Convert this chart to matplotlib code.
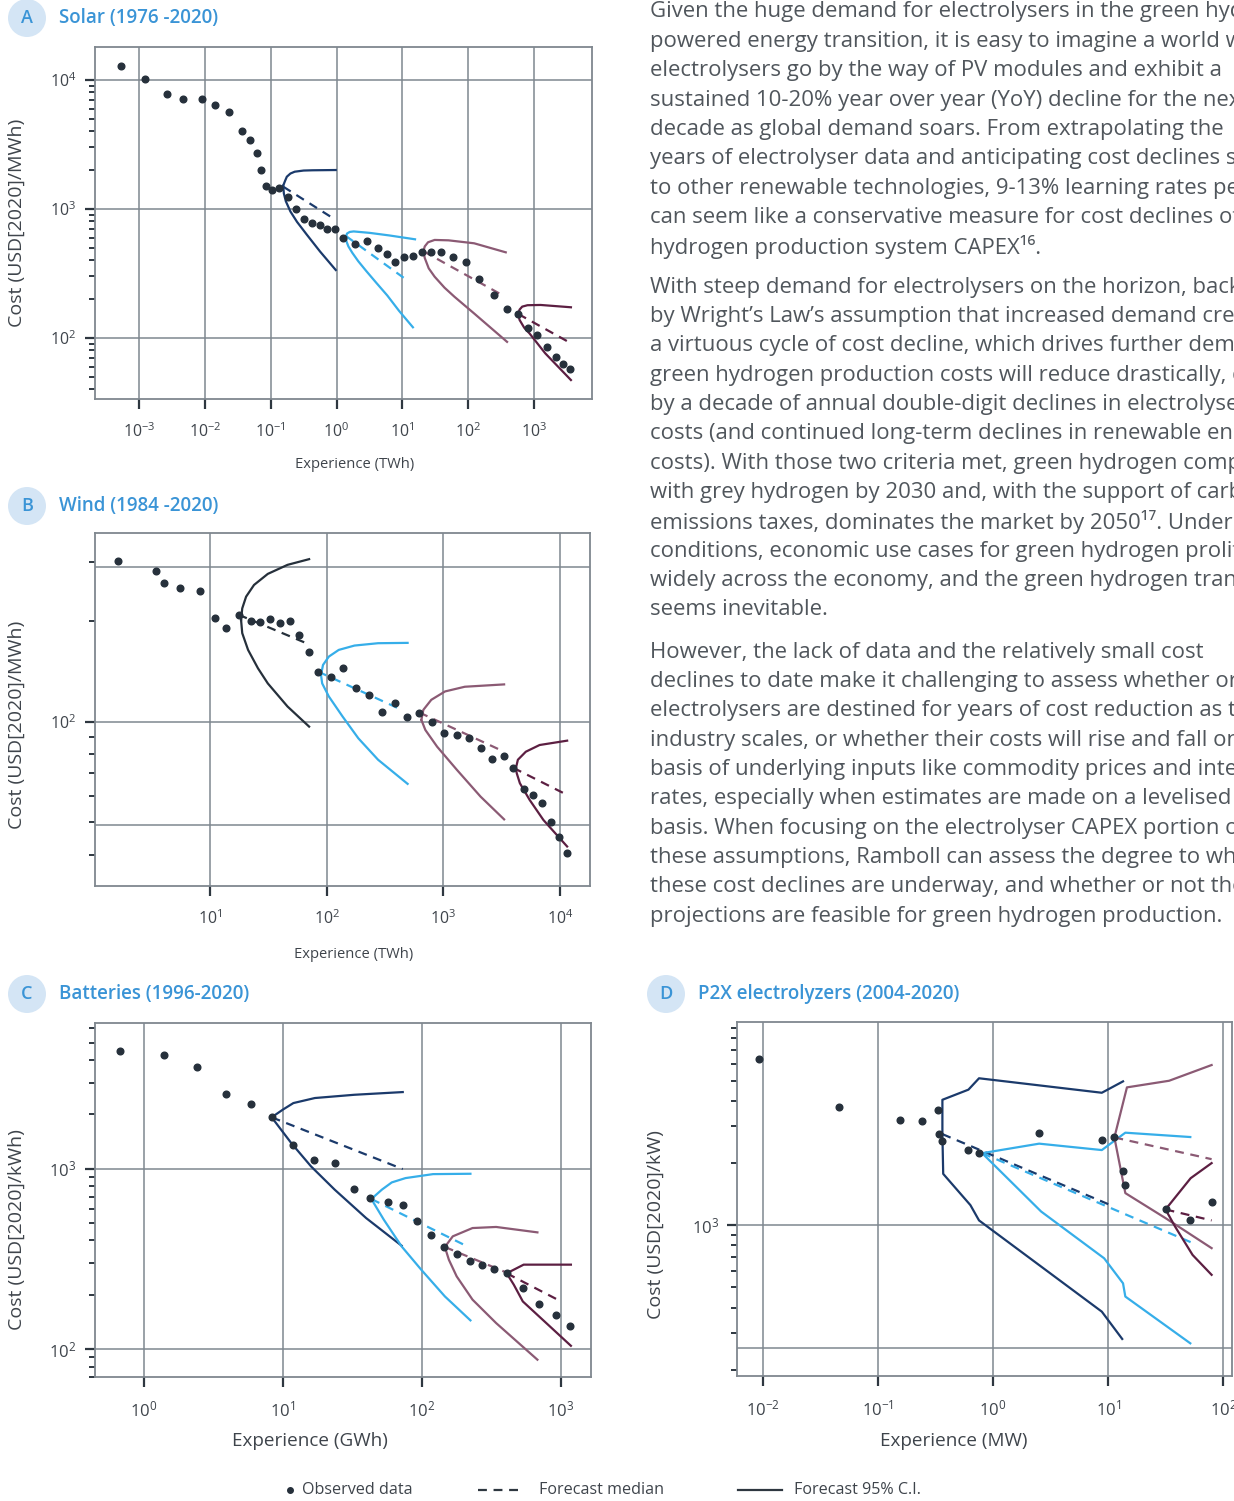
import numpy as np
import matplotlib
matplotlib.use("Agg")
import matplotlib.pyplot as plt
from matplotlib.ticker import FixedLocator, FuncFormatter, LogLocator, NullLocator, NullFormatter
from matplotlib.patches import Ellipse
from matplotlib.lines import Line2D

plt.rcParams['font.family'] = ['Open Sans', 'DejaVu Sans']
plt.rcParams['mathtext.fontset'] = 'custom'
plt.rcParams['mathtext.rm'] = 'Open Sans'

W, H = 1234, 1501

# ---- data (log10 of experience, log10 of cost) ----
# A: solar
solar_x = [-3.28, -2.91, -2.58, -2.33, -2.05, -1.84, -1.64, -1.43, -1.31, -1.21, -1.15,
           -1.07, -0.98, -0.87, -0.74, -0.62, -0.50, -0.37, -0.25, -0.14, -0.02, 0.10,
           0.28, 0.47, 0.63, 0.76, 0.89, 1.02, 1.16, 1.30, 1.43, 1.59, 1.77, 1.96, 2.17,
           2.39, 2.59, 2.75, 2.91, 3.05, 3.19, 3.34, 3.44, 3.55]
solar_y = [4.111, 4.008, 3.894, 3.855, 3.855, 3.809, 3.752, 3.602, 3.535, 3.432, 3.305,
           3.178, 3.145, 3.165, 3.096, 2.997, 2.922, 2.891, 2.873, 2.848, 2.848, 2.773,
           2.726, 2.752, 2.695, 2.649, 2.587, 2.630, 2.638, 2.669, 2.664, 2.664, 2.630,
           2.587, 2.457, 2.336, 2.227, 2.189, 2.075, 2.023, 1.930, 1.855, 1.796, 1.757]
solar_fans = [
    ([-0.81, -0.78, -0.755, -0.70, -0.635, -0.50, -0.365, -0.012],
     [3.181, 3.22, 3.25, 3.275, 3.289, 3.298, 3.30, 3.302],
     [-0.81, -0.80, -0.77, -0.70, -0.60, -0.45, -0.25, -0.012],
     [3.181, 3.12, 3.06, 2.98, 2.90, 2.80, 2.67, 2.527],
     [-0.81, -0.012], [3.173, 2.915]),
    ([0.144, 0.16, 0.20, 0.26, 0.5, 0.8, 1.192],
     [2.79, 2.81, 2.822, 2.826, 2.815, 2.795, 2.765],
     [0.144, 0.15, 0.18, 0.24, 0.33, 0.45, 0.6, 0.77, 0.95, 1.16],
     [2.79, 2.75, 2.71, 2.66, 2.595, 2.52, 2.43, 2.33, 2.21, 2.083],
     [0.144, 1.10], [2.79, 2.437]),
    ([1.32, 1.34, 1.39, 1.49, 1.7, 2.09, 2.57],
     [2.672, 2.71, 2.742, 2.76, 2.757, 2.734, 2.664],
     [1.32, 1.34, 1.40, 1.49, 1.64, 1.79, 2.09, 2.59],
     [2.672, 2.62, 2.54, 2.475, 2.39, 2.32, 2.19, 1.97],
     [1.32, 2.54], [2.672, 2.326]),
    ([2.76, 2.78, 2.82, 2.90, 3.1, 3.56],
     [2.186, 2.22, 2.243, 2.254, 2.256, 2.238],
     [2.76, 2.78, 2.85, 2.93, 3.17, 3.56],
     [2.186, 2.14, 2.08, 2.036, 1.881, 1.674],
     [2.76, 3.56], [2.186, 1.959]),
]

# B: wind
wind_x = [0.214, 0.534, 0.608, 0.747, 0.916, 1.040, 1.142, 1.246, 1.351, 1.429, 1.513,
          1.597, 1.682, 1.763, 1.847, 1.928, 2.036, 2.137, 2.255, 2.367, 2.478, 2.586,
          2.691, 2.795, 2.900, 3.008, 3.116, 3.217, 3.322, 3.416, 3.518, 3.599, 3.690,
          3.771, 3.849, 3.923, 3.994, 4.061]
wind_y = [2.480, 2.449, 2.414, 2.399, 2.390, 2.310, 2.279, 2.319, 2.301, 2.297, 2.306,
          2.293, 2.301, 2.260, 2.207, 2.149, 2.134, 2.159, 2.101, 2.080, 2.030, 2.055,
          2.013, 2.027, 1.999, 1.965, 1.961, 1.952, 1.922, 1.887, 1.896, 1.862, 1.799,
          1.782, 1.758, 1.700, 1.655, 1.609]
wind_fans = [
    ([1.267, 1.277, 1.310, 1.378, 1.496, 1.665, 1.850],
     [2.303, 2.338, 2.373, 2.408, 2.441, 2.468, 2.485],
     [1.267, 1.277, 1.327, 1.412, 1.496, 1.665, 1.850],
     [2.303, 2.264, 2.214, 2.159, 2.114, 2.045, 1.985],
     [1.246, 1.827], [2.319, 2.234]),
    ([1.952, 1.969, 2.019, 2.104, 2.239, 2.441, 2.694],
     [2.139, 2.169, 2.194, 2.214, 2.227, 2.234, 2.235],
     [1.952, 1.962, 2.019, 2.137, 2.272, 2.441, 2.694],
     [2.139, 2.114, 2.075, 2.015, 1.950, 1.886, 1.814],
     [1.928, 2.644], [2.149, 2.035]),
    ([2.812, 2.829, 2.897, 3.015, 3.184, 3.521],
     [2.005, 2.035, 2.065, 2.090, 2.104, 2.111],
     [2.812, 2.846, 2.947, 3.116, 3.319, 3.521],
     [2.005, 1.975, 1.925, 1.856, 1.776, 1.708],
     [2.795, 3.521], [2.027, 1.910]),
    ([3.622, 3.639, 3.707, 3.825, 4.061],
     [1.861, 1.886, 1.910, 1.930, 1.943],
     [3.622, 3.629, 3.656, 3.740, 3.858, 4.061],
     [1.861, 1.846, 1.816, 1.766, 1.706, 1.627],
     [3.599, 4.061], [1.862, 1.781]),
]

# C: batteries
batt_x = [-0.173, 0.142, 0.380, 0.589, 0.768, 0.918, 1.068, 1.224, 1.374, 1.507, 1.626,
          1.756, 1.861, 1.966, 2.062, 2.156, 2.249, 2.346, 2.433, 2.521, 2.609, 2.725,
          2.839, 2.963, 3.062]
batt_y = [3.651, 3.628, 3.564, 3.414, 3.359, 3.285, 3.131, 3.050, 3.033, 2.885, 2.835,
          2.813, 2.800, 2.710, 2.630, 2.566, 2.529, 2.490, 2.466, 2.444, 2.420, 2.340,
          2.250, 2.189, 2.129]
batt_fans = [
    ([0.918, 0.997, 1.074, 1.229, 1.513, 1.861],
     [3.285, 3.327, 3.364, 3.392, 3.410, 3.425],
     [0.918, 1.059, 1.201, 1.371, 1.598, 1.853],
     [3.285, 3.142, 3.013, 2.884, 2.726, 2.573],
     [0.918, 1.861], [3.285, 2.998]),
    ([1.635, 1.711, 1.782, 1.881, 2.079, 2.348],
     [2.832, 2.884, 2.924, 2.948, 2.970, 2.972],
     [1.635, 1.725, 1.853, 1.994, 2.164, 2.348],
     [2.832, 2.717, 2.569, 2.440, 2.292, 2.159],
     [1.635, 2.334], [2.832, 2.566]),
    ([2.164, 2.221, 2.363, 2.533, 2.830],
     [2.566, 2.625, 2.671, 2.677, 2.647],
     [2.164, 2.193, 2.249, 2.363, 2.533, 2.830],
     [2.566, 2.495, 2.403, 2.274, 2.144, 1.941],
     [2.164, 2.646], [2.566, 2.412]),
    ([2.609, 2.731, 3.071],
     [2.420, 2.468, 2.468],
     [2.609, 2.660, 2.725, 3.071],
     [2.420, 2.357, 2.264, 2.018],
     [2.609, 3.0], [2.420, 2.264]),
]

# D: P2X electrolyzers
p2x_x = [-2.034, -1.337, -0.808, -0.613, -0.473, -0.466, -0.439, -0.213, -0.125, 0.401,
         0.945, 1.054, 1.129, 1.149, 1.498, 1.713, 1.898]
p2x_y = [3.805, 3.573, 3.506, 3.502, 3.558, 3.440, 3.408, 3.363, 3.348, 3.447, 3.413,
         3.424, 3.263, 3.195, 3.076, 3.023, 3.110]
p2x_fans = [
    ([-0.439, -0.439, -0.213, -0.121, 0.945, 1.129],
     [3.440, 3.606, 3.655, 3.710, 3.640, 3.695],
     [-0.439, -0.432, -0.196, -0.121, 0.945, 1.122],
     [3.440, 3.248, 3.097, 3.023, 2.582, 2.450],
     [-0.439, 1.016], [3.440, 3.098]),
    ([-0.094, 0.401, 0.945, 1.149, 1.713],
     [3.348, 3.394, 3.363, 3.447, 3.426],
     [-0.094, 0.418, 0.965, 1.129, 1.149, 1.713],
     [3.348, 3.066, 2.840, 2.719, 2.655, 2.429],
     [-0.094, 1.716], [3.348, 2.918]),
    ([1.054, 1.163, 1.529, 1.898],
     [3.424, 3.666, 3.698, 3.774],
     [1.054, 1.149, 1.498, 1.898],
     [3.424, 3.155, 3.034, 2.889],
     [1.054, 1.898], [3.424, 3.319]),
    ([1.498, 1.716, 1.898],
     [3.076, 3.227, 3.300],
     [1.498, 1.580, 1.733, 1.898],
     [3.076, 2.994, 2.856, 2.760],
     [1.498, 1.898], [3.076, 3.023]),
]

NAVY = '#1b3a6b'
BLUE = '#36aee9'
MAUVE = '#8b5a74'
PLUM = '#5c1f42'
DARK = '#26303b'
GRID = '#7f878f'
TXT = '#3e444b'
TITLE = '#3a94d6'
fan_colors = [NAVY, BLUE, MAUVE, PLUM]


def fx(x):
    return x / W


def fy(y):
    return 1 - y / H


def sci(v, pos):
    return r'$\mathregular{10^{%d}}$' % int(round(np.log10(v)))


def panel(box, xlim, ylim, xdec, ydec, hgrid, ox, oy, fans, colors, tsize):
    l, t, r, b = box
    ax = fig.add_axes([fx(l), fy(b), (r - l) / W, (b - t) / H])
    ax.set_xscale('log')
    ax.set_yscale('log')
    ax.set_xlim(10 ** xlim[0], 10 ** xlim[1])
    ax.set_ylim(10 ** ylim[0], 10 ** ylim[1])
    for d in xdec:
        ax.axvline(10.0 ** d, color=GRID, lw=1.1, zorder=0)
    for g in hgrid:
        ax.axhline(10.0 ** g, color=GRID, lw=1.1, zorder=0)
    for s in ax.spines.values():
        s.set_color(GRID)
        s.set_linewidth(1.3)
    ax.xaxis.set_major_locator(FixedLocator([10.0 ** d for d in xdec]))
    ax.xaxis.set_minor_locator(NullLocator())
    ax.xaxis.set_major_formatter(FuncFormatter(sci))
    ax.yaxis.set_major_locator(FixedLocator([10.0 ** d for d in ydec]))
    ax.yaxis.set_minor_locator(LogLocator(base=10, subs=np.arange(2, 10)))
    ax.yaxis.set_major_formatter(FuncFormatter(sci))
    ax.yaxis.set_minor_formatter(NullFormatter())
    ax.tick_params(axis='x', which='major', length=7, width=1.6, color='#2e3740',
                   pad=10, labelsize=tsize, labelcolor=TXT)
    ax.tick_params(axis='y', which='major', length=7, width=1.6, color='#2e3740',
                   pad=6, labelsize=tsize, labelcolor=TXT)
    ax.tick_params(axis='y', which='minor', length=4, width=1.4, color='#2e3740')

    for (ux, uy, lx, ly, mx, my), c in zip(fans, colors):
        ax.plot(10 ** np.array(ux), 10 ** np.array(uy), color=c, lw=1.6, zorder=3)
        ax.plot(10 ** np.array(lx), 10 ** np.array(ly), color=c, lw=1.6, zorder=3)
        ax.plot(10 ** np.array(mx), 10 ** np.array(my), color=c, lw=1.6,
                ls=(0, (4, 3)), zorder=3)
    ax.plot(10 ** np.array(ox), 10 ** np.array(oy), 'o', color=DARK, ms=4.8, zorder=4)
    return ax


def badge(cx, cy, letter, title):
    fig.add_artist(Ellipse((fx(cx), fy(cy)), 38 / W, 38 / H, transform=fig.transFigure,
                           facecolor='#d4e5f5', edgecolor='none'))
    fig.text(fx(cx), fy(cy), letter, ha='center', va='center', fontsize=13,
             color=TITLE, fontweight='semibold')
    fig.text(fx(cx + 32), fy(cy), title, ha='left', va='center', fontsize=13.5,
             color=TITLE, fontweight='semibold')


fig = plt.figure(figsize=(W / 100, H / 100), dpi=100)

panel((94.5, 46.7, 592, 399), (-3.676, 3.88), (1.527, 4.258),
      range(-3, 4), [2, 3, 4], [2, 3, 4], solar_x, solar_y, solar_fans, fan_colors, 11.5)
panel((94.5, 532.7, 590, 886), (0.011, 4.257), (1.509, 2.564),
      range(1, 5), [2], [1.69, 2, 2.463], wind_x, wind_y, wind_fans,
      [DARK, BLUE, MAUVE, PLUM], 11.5)
panel((94.5, 1023, 590.5, 1377), (-0.357, 3.212), (1.845, 3.808),
      range(0, 4), [2, 3], [2, 3], batt_x, batt_y, batt_fans, fan_colors, 12)
panel((737, 1022, 1232, 1376), (-2.222, 2.075), (2.271, 3.982),
      range(-2, 3), [3], [2.408, 3], p2x_x, p2x_y, p2x_fans, fan_colors, 12)

badge(27, 18, 'A', 'Solar (1976 -2020)')
badge(27, 506, 'B', 'Wind (1984 -2020)')
badge(27, 994, 'C', 'Batteries (1996-2020)')
badge(666, 994, 'D', 'P2X electrolyzers (2004-2020)')

# axis labels
fig.text(fx(17), fy(223), 'Cost (USD[2020]/MWh)', rotation=90, ha='center', va='center',
         fontsize=14, color=TXT)
fig.text(fx(355), fy(465), 'Experience (TWh)', ha='center', va='center', fontsize=10.6,
         color=TXT)
fig.text(fx(17), fy(725), 'Cost (USD[2020]/MWh)', rotation=90, ha='center', va='center',
         fontsize=14, color=TXT)
fig.text(fx(354), fy(954), 'Experience (TWh)', ha='center', va='center', fontsize=10.6,
         color=TXT)
fig.text(fx(17), fy(1230), 'Cost (USD[2020]/kWh)', rotation=90, ha='center', va='center',
         fontsize=14, color=TXT)
fig.text(fx(310), fy(1441), 'Experience (GWh)', ha='center', va='center', fontsize=13.6,
         color=TXT)
fig.text(fx(656), fy(1225), 'Cost (USD[2020]/kW)', rotation=90, ha='center', va='center',
         fontsize=14, color=TXT)
fig.text(fx(954), fy(1441), 'Experience (MW)', ha='center', va='center', fontsize=13.6,
         color=TXT)

# body text
para1 = ["Given the huge demand for electrolysers in the green hydrogen-",
         "powered energy transition, it is easy to imagine a world where",
         "electrolysers go by the way of PV modules and exhibit a",
         "sustained 10-20% year over year (YoY) decline for the next",
         "decade as global demand soars. From extrapolating the",
         "years of electrolyser data and anticipating cost declines similar",
         "to other renewable technologies, 9-13% learning rates per",
         "can seem like a conservative measure for cost declines of",
         "hydrogen production system CAPEX\u00b9\u2076."]
para2 = ["With steep demand for electrolysers on the horizon, backed",
         "by Wright\u2019s Law\u2019s assumption that increased demand creates",
         "a virtuous cycle of cost decline, which drives further demand,",
         "green hydrogen production costs will reduce drastically, driven",
         "by a decade of annual double-digit declines in electrolyser",
         "costs (and continued long-term declines in renewable energy",
         "costs). With those two criteria met, green hydrogen competes",
         "with grey hydrogen by 2030 and, with the support of carbon",
         "emissions taxes, dominates the market by 2050\u00b9\u2077. Under these",
         "conditions, economic use cases for green hydrogen proliferate",
         "widely across the economy, and the green hydrogen transition",
         "seems inevitable."]
para3 = ["However, the lack of data and the relatively small cost",
         "declines to date make it challenging to assess whether or not",
         "electrolysers are destined for years of cost reduction as the",
         "industry scales, or whether their costs will rise and fall on the",
         "basis of underlying inputs like commodity prices and interest",
         "rates, especially when estimates are made on a levelised cost",
         "basis. When focusing on the electrolyser CAPEX portion of",
         "these assumptions, Ramboll can assess the degree to which",
         "these cost declines are underway, and whether or not the",
         "projections are feasible for green hydrogen production."]
for start, lines in [(12, para1), (287, para2), (652, para3)]:
    for i, line in enumerate(lines):
        fig.text(fx(650), fy(start + i * 29.35), line, ha='left', va='center',
                 fontsize=15.9, color='#50565c')

# legend
ly = 1490
fig.add_artist(Line2D([fx(290)], [fy(ly)], marker='o', ms=4, color=DARK,
                      transform=fig.transFigure))
fig.text(fx(302), fy(ly), 'Observed data', ha='left', va='center', fontsize=11.6, color=TXT)
fig.add_artist(Line2D([fx(478), fx(522)], [fy(ly), fy(ly)], color='#2e3740', lw=1.6,
                      ls=(0, (4, 3)), transform=fig.transFigure))
fig.text(fx(539), fy(ly), 'Forecast median', ha='left', va='center', fontsize=11.6, color=TXT)
fig.add_artist(Line2D([fx(738), fx(782)], [fy(ly), fy(ly)], color='#2e3740', lw=1.6,
                      transform=fig.transFigure))
fig.text(fx(794), fy(ly), 'Forecast 95% C.I.', ha='left', va='center', fontsize=11.6,
         color=TXT)

fig.savefig('out.png', dpi=100, facecolor='white')
